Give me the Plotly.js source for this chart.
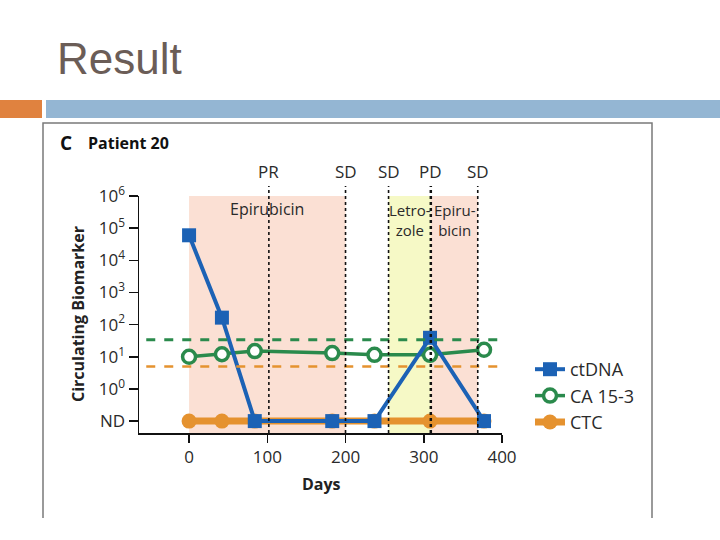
<!DOCTYPE html>
<html><head><meta charset="utf-8">
<script src="https://cdn.plot.ly/plotly-3.0.1.min.js"></script>
<style>html,body{margin:0;padding:0;background:#fff;}#plot{width:720px;height:540px;}</style>
</head><body><div id="plot"></div>
<script>
// ---- data ----
const days = [0, 42, 84, 183, 237, 308, 377];
const ctDNA = [60000, 165, 'ND', 'ND', 'ND', 39, 'ND'];
const ca153 = [10, 12, 15, 13, 11.5, 11.5, 16.5];
const ctc = ['ND', 'ND', 'ND', 'ND', 'ND', 'ND', 'ND'];
const ND_POS = 0.1;
const ca153Threshold = 34;
const ctcThreshold = 5;
const treatNames = ['Epirubicin', 'Letro-<br>zole', 'Epiru-<br>bicin'];
const treatStart = [0, 255, 309];
const treatEnd = [200, 309, 369];
const treatColors = ['#fbe0d4', '#f6f9c6', '#fbe0d4'];
const respLabels = ['PR', 'SD', 'SD', 'PD', 'SD'];
const respDays = [102, 200, 255, 309, 369];
const yTickVals = [0.1, 1, 10, 100, 1000, 10000, 100000, 1000000];
const yTickText = ['ND', '10<sup>0</sup>', '10<sup>1</sup>', '10<sup>2</sup>', '10<sup>3</sup>', '10<sup>4</sup>', '10<sup>5</sup>', '10<sup>6</sup>'];
const xTickVals = [0, 100, 200, 300, 400];

// ---- geometry helpers (page px -> paper) ----
const L = 139, R = 502, T = 196, B = 433;
const W = R - L, H = B - T;
const px = x => (x - L) / W;
const py = y => (B - y) / H;
const nd = v => v === 'ND' ? ND_POS : v;

const BLUE = '#1c62b5', GREEN = '#2a8a4c', ORANGE = '#e5922f';
const FONT = '"Open Sans", "Noto Sans", sans-serif';
const TXT = '#2a2a2a';

const traces = [
  {x: days, y: ctc.map(nd), name: 'CTC', mode: 'lines+markers',
   line: {color: ORANGE, width: 7}, marker: {color: ORANGE, size: 15, symbol: 'circle'}},
  {x: days, y: ca153.map(nd), name: 'CA 15-3', mode: 'lines+markers',
   line: {color: GREEN, width: 3.5}, marker: {color: '#ffffff', size: 13, symbol: 'circle', line: {color: GREEN, width: 3.5}}},
  {x: days, y: ctDNA.map(nd), name: 'ctDNA', mode: 'lines+markers',
   line: {color: BLUE, width: 4}, marker: {color: BLUE, size: 14, symbol: 'square'}}
];

const shapes = [];
const annotations = [];
function ann(o) {
  annotations.push(Object.assign({showarrow: false, xanchor: 'center', yanchor: 'middle'}, o));
}
// treatment bands
treatNames.forEach((n, i) => {
  shapes.push({type: 'rect', layer: 'below', xref: 'x', yref: 'paper', x0: treatStart[i], x1: treatEnd[i], y0: 0, y1: 1,
    fillcolor: treatColors[i], line: {width: 0}});
});
ann({xref: 'x', yref: 'paper', x: 100, y: py(209), text: treatNames[0], font: {family: FONT, size: 16, color: TXT}});
ann({xref: 'x', yref: 'paper', x: 282, y: py(220), text: treatNames[1], font: {family: FONT, size: 15, color: TXT}});
ann({xref: 'x', yref: 'paper', x: 340, y: py(220), text: treatNames[2], font: {family: FONT, size: 15, color: TXT}});
// thresholds
shapes.push({type: 'line', xref: 'paper', yref: 'y', x0: 0.02, x1: px(500), y0: ca153Threshold, y1: ca153Threshold, line: {color: GREEN, width: 3, dash: 'dash'}});
shapes.push({type: 'line', xref: 'paper', yref: 'y', x0: 0.02, x1: px(500), y0: ctcThreshold, y1: ctcThreshold, line: {color: ORANGE, width: 2.5, dash: 'dash'}});
// response lines
respDays.forEach((d, i) => {
  shapes.push({type: 'line', xref: 'x', yref: 'paper', x0: d, x1: d, y0: 0, y1: py(186),
    line: {color: '#111', width: respLabels[i] === 'PD' ? 2.5 : 1.6, dash: 'dot'}});
  ann({xref: 'x', yref: 'paper', x: d, y: py(172), text: respLabels[i], font: {family: FONT, size: 17, color: TXT}});
});
// slide decorations
shapes.push({type: 'rect', xref: 'paper', yref: 'paper', x0: px(0), x1: px(42), y0: py(118), y1: py(100), fillcolor: '#e0823f', line: {width: 0}});
shapes.push({type: 'rect', xref: 'paper', yref: 'paper', x0: px(46), x1: px(720), y0: py(118), y1: py(100), fillcolor: '#94b6d3', line: {width: 0}});
shapes.push({type: 'path', xref: 'paper', yref: 'paper',
  path: `M ${px(43)} ${py(518)} L ${px(43)} ${py(123)} L ${px(652)} ${py(123)} L ${px(652)} ${py(518)}`,
  line: {color: '#7a7a7a', width: 1.5}});
ann({xref: 'paper', yref: 'paper', x: px(55), y: py(58), xanchor: 'left', text: 'Result',
  font: {family: '"Liberation Sans", Arial, sans-serif', size: 44, color: '#6b5d57'}});
ann({xref: 'paper', yref: 'paper', x: px(58), y: py(143), xanchor: 'left', text: '<b>C</b>',
  font: {family: FONT, size: 19, color: '#111'}});
ann({xref: 'paper', yref: 'paper', x: px(86), y: py(143), xanchor: 'left', text: '<b>Patient 20</b>',
  font: {family: FONT, size: 16, color: '#111'}});
ann({xref: 'paper', yref: 'paper', x: px(78), y: py(314), text: '<b>Circulating Biomarker</b>', textangle: -90,
  font: {family: FONT, size: 16, color: '#222'}});
ann({xref: 'paper', yref: 'paper', x: px(321), y: py(484), text: '<b>Days</b>',
  font: {family: FONT, size: 16, color: '#222'}});

const layout = {
  width: 720, height: 540,
  margin: {l: L, r: 720 - R, t: T, b: 540 - B, pad: 0},
  paper_bgcolor: '#fff', plot_bgcolor: 'rgba(0,0,0,0)',
  showlegend: true,
  legend: {x: px(530), y: py(351), xanchor: 'left', yanchor: 'top', traceorder: 'reversed',
    font: {family: FONT, size: 18, color: TXT}, bgcolor: 'rgba(0,0,0,0)', itemwidth: 30},
  xaxis: {range: [-64, 400], tickvals: xTickVals, ticks: 'outside', ticklen: 8, tickcolor: '#111', tickwidth: 1.5,
    showline: true, linecolor: '#111', linewidth: 1.5, showgrid: false, zeroline: false,
    tickfont: {family: FONT, size: 17, color: TXT}},
  yaxis: {type: 'log', range: [-1.37, 6.0], tickvals: yTickVals, ticktext: yTickText, ticks: 'outside', ticklen: 9,
    tickcolor: '#111', tickwidth: 1.5, showline: true, linecolor: '#111', linewidth: 1.5, showgrid: false, zeroline: false,
    tickfont: {family: FONT, size: 17, color: TXT}},
  shapes: shapes, annotations: annotations
};
Plotly.newPlot('plot', traces, layout, {displayModeBar: false, staticPlot: true});
</script></body></html>
